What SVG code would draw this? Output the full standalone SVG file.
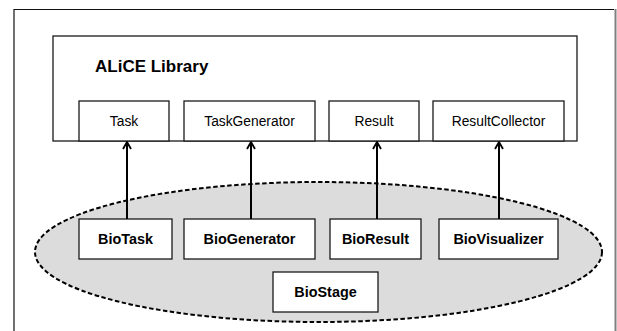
<svg xmlns="http://www.w3.org/2000/svg" width="617" height="331" viewBox="0 0 617 331">
  <style>
    .box { fill: #ffffff; stroke: #1a1a1a; stroke-width: 1.3; }
    .lbl { font-family: "Liberation Sans", Arial, sans-serif; font-size: 13.8px; fill: #000; text-anchor: middle; }
    .blbl { font-family: "Liberation Sans", Arial, sans-serif; font-size: 14.4px; font-weight: bold; fill: #000; text-anchor: middle; }
    .conn { stroke: #000; stroke-width: 2; fill: none; }
  </style>
  <defs>
    <!-- open chevron head; tip points along the line direction -->
    <marker id="openArrow" viewBox="0 0 10 10" refX="9" refY="5" markerWidth="10" markerHeight="10" markerUnits="userSpaceOnUse" orient="auto">
      <path d="M2,1 L9,5 L2,9" fill="none" stroke="#000" stroke-width="1.8"/>
    </marker>
  </defs>

  <rect width="617" height="331" fill="#ffffff"/>

  <!-- page frame -->
  <g id="frame">
    <line x1="14" y1="9.5" x2="614" y2="9.5" stroke="#111" stroke-width="1.2"/>
    <line x1="14" y1="9" x2="14" y2="331" stroke="#111" stroke-width="1.2"/>
    <line x1="615.5" y1="9" x2="615.5" y2="331" stroke="#808080" stroke-width="2"/>
  </g>

  <!-- application scope -->
  <g id="bio-scope">
    <ellipse cx="318.5" cy="252" rx="283.5" ry="70" fill="#dcdcdc" stroke="#000" stroke-width="2" stroke-dasharray="4.5 2.5"/>
  </g>

  <!-- library container -->
  <g id="alice-library">
    <rect x="53" y="36" width="524" height="105" fill="#ffffff" stroke="#1a1a1a" stroke-width="1.3"/>
    <text x="95" y="72" font-family="Liberation Sans, Arial, sans-serif" font-size="17px" font-weight="bold">ALiCE Library</text>
  </g>

  <g id="task">
    <rect class="box" x="79" y="101" width="90" height="40"/>
    <text class="lbl" x="124" y="126">Task</text>
  </g>
  <g id="task-generator">
    <rect class="box" x="184" y="101" width="131" height="40"/>
    <text class="lbl" x="249.5" y="126">TaskGenerator</text>
  </g>
  <g id="result">
    <rect class="box" x="329" y="101" width="90" height="40"/>
    <text class="lbl" x="374" y="126">Result</text>
  </g>
  <g id="result-collector">
    <rect class="box" x="433" y="101" width="131" height="40"/>
    <text class="lbl" x="498.5" y="126">ResultCollector</text>
  </g>

  <g id="bio-task">
    <rect class="box" x="79" y="219" width="93" height="40"/>
    <text class="blbl" x="125.5" y="244">BioTask</text>
  </g>
  <g id="bio-generator">
    <rect class="box" x="184" y="219" width="131" height="40"/>
    <text class="blbl" x="249.5" y="244">BioGenerator</text>
  </g>
  <g id="bio-result">
    <rect class="box" x="330" y="219" width="91" height="40"/>
    <text class="blbl" x="375.5" y="244">BioResult</text>
  </g>
  <g id="bio-visualizer">
    <rect class="box" x="439" y="219" width="119" height="40"/>
    <text class="blbl" x="498.5" y="244">BioVisualizer</text>
  </g>
  <g id="bio-stage">
    <rect class="box" x="273" y="272" width="105" height="40"/>
    <text class="blbl" x="325.5" y="297">BioStage</text>
  </g>

  <!-- inheritance links -->
  <g id="connectors">
    <line class="conn" x1="127" y1="219" x2="127" y2="142" marker-end="url(#openArrow)"/>
    <line class="conn" x1="251" y1="219" x2="251" y2="142" marker-end="url(#openArrow)"/>
    <line class="conn" x1="377" y1="219" x2="377" y2="142" marker-end="url(#openArrow)"/>
    <line class="conn" x1="499" y1="219" x2="499" y2="142" marker-end="url(#openArrow)"/>
  </g>
</svg>
